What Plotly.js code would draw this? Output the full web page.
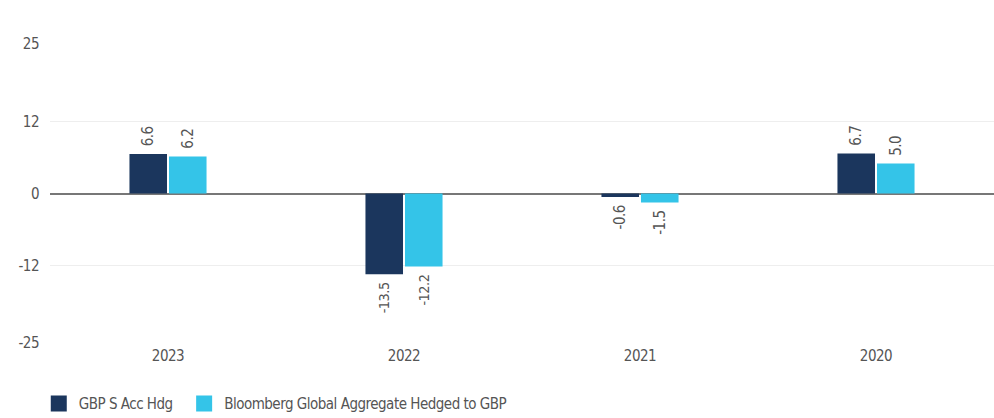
<!DOCTYPE html>
<html>
<head>
<meta charset="utf-8">
<script src="https://cdn.plot.ly/plotly-3.0.1.min.js"></script>
<style>
html,body{margin:0;padding:0;background:#fff;}
#chart{width:994px;height:418px;}
#chart svg text{font-stretch:condensed !important;letter-spacing:-0.5px;}
</style>
</head>
<body>
<div id="chart"></div>
<script>
const categories = ["2023", "2022", "2021", "2020"];
const fundName = "GBP S Acc Hdg";
const fundValues = [6.6, -13.5, -0.6, 6.7];
const benchName = "Bloomberg Global Aggregate Hedged to GBP";
const benchValues = [6.2, -12.2, -1.5, 5.0];
const yTicks = [-25, -12, 0, 12, 25];

const fundColor = "#1b365d";
const benchColor = "#34c4e8";
const font = "'DejaVu Sans Condensed', 'DejaVu Sans', sans-serif";
const textColor = "#555";
const NB = "\u00A0";

function label(v) {
  // extra non-breaking space on the bar side of the rotated label
  return v >= 0 ? NB + v.toFixed(1) : v.toFixed(1) + NB;
}

function series(name, vals, color) {
  return {
    type: "bar", name: name, x: categories, y: vals,
    marker: {color: color},
    text: vals.map(label),
    textposition: "outside", textangle: -90,
    textfont: {family: font, size: 15, color: textColor},
    cliponaxis: false, hoverinfo: "none", showlegend: false
  };
}
function legendItem(name, color) {
  return {
    type: "scatter", mode: "markers", name: name, x: [null], y: [null],
    marker: {symbol: "square", size: 17, color: color}, hoverinfo: "none"
  };
}

const data = [
  series(fundName, fundValues, fundColor),
  series(benchName, benchValues, benchColor),
  legendItem(fundName, fundColor),
  legendItem(benchName, benchColor)
];

const layout = {
  width: 994, height: 418,
  margin: {l: 50, r: 0, t: 44, b: 75},
  paper_bgcolor: "#fff", plot_bgcolor: "#fff",
  font: {family: font, size: 15, color: textColor},
  barmode: "group", bargap: 0.665, bargroupgap: 0.05,
  showlegend: true,
  legend: {orientation: "h", xref: "container", yref: "container",
           x: 0.039, xanchor: "left", y: 0.034, yanchor: "middle",
           font: {family: font, size: 15, color: textColor}, itemwidth: 30, tracegroupgap: 0},
  xaxis: {type: "category", showgrid: false, zeroline: false, showline: false,
          ticks: "", ticklabelstandoff: 2, tickfont: {family: font, size: 15, color: textColor}},
  yaxis: {range: [-25, 25], tickvals: yTicks, ticktext: yTicks.map(String),
          showgrid: true, gridcolor: "#eeeeee", gridwidth: 1,
          zeroline: true, zerolinecolor: "#777", zerolinewidth: 2,
          ticks: "", ticklabelstandoff: 10,
          tickfont: {family: font, size: 15, color: textColor}}
};

Plotly.newPlot("chart", data, layout, {displayModeBar: false, staticPlot: true});
</script>
</body>
</html>
